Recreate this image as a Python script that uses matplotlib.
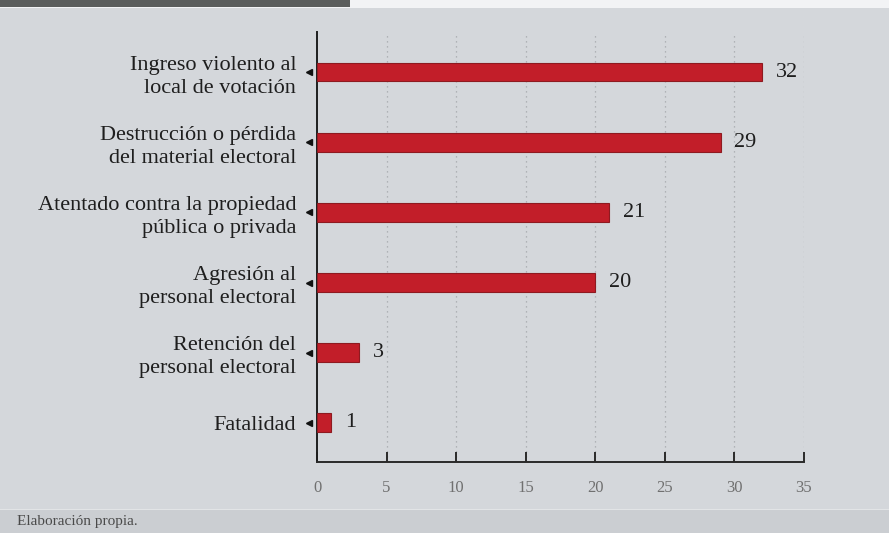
import matplotlib
matplotlib.use("Agg")
import matplotlib.pyplot as plt
from matplotlib.patches import Rectangle

# datos (de abajo hacia arriba)
categorias = ["Fatalidad",
              "Retención del\npersonal electoral",
              "Agresión al\npersonal electoral",
              "Atentado contra la propiedad\npública o privada",
              "Destrucción o pérdida\ndel material electoral",
              "Ingreso violento al\nlocal de votación"]
valores = [1, 3, 20, 21, 29, 32]
xticks = [0, 5, 10, 15, 20, 25, 30, 35]
fuente = "Elaboración propia."

bg = "#d4d7db"
rojo = "#c21e29"

plt.rcParams['font.family'] = ['Liberation Serif', 'DejaVu Serif']

fig = plt.figure(figsize=(8.89, 5.33), dpi=100)
fig.patch.set_facecolor(bg)

# franjas de la pagina escaneada
fig.patches.append(Rectangle((0, 1 - 8/533), 1, 8/533, transform=fig.transFigure,
                             facecolor="#f2f3f5", edgecolor="none"))
fig.patches.append(Rectangle((0, 1 - 7/533), 350/889, 7/533, transform=fig.transFigure,
                             facecolor="#5a5d5c", edgecolor="none"))
fig.patches.append(Rectangle((0, 0), 1, 23/533, transform=fig.transFigure,
                             facecolor="#cbced2", edgecolor="none"))
fig.patches.append(Rectangle((0, 23/533), 1, 1.5/533, transform=fig.transFigure,
                             facecolor="#e2e4e6", edgecolor="none"))
fig.text(17/889, 11/533, fuente, fontsize=11, color="#4a4a4a", va="center", ha="left")

ax = fig.add_axes([317/889, 71/533, 487/889, 430/533])
ax.set_facecolor("none")

y = list(range(len(categorias)))
ax.barh(y, valores, height=0.27, color=rojo, edgecolor="#8e1a20", linewidth=0.8, zorder=3)

for yi, v in zip(y, valores):
    ax.text(v + 1.0, yi, str(v), fontsize=16, color="#1e1e1e", va="center", ha="left")

# marcadores triangulares junto al eje
ax.plot([-0.0165] * len(y), y, linestyle="none", marker="<", markersize=5,
        color="#111111", transform=ax.get_yaxis_transform(), clip_on=False, zorder=4)

ax.set_xlim(0, 35)
ax.set_ylim(-0.556, 5.57)
ax.set_xticks(xticks)
ax.set_xticklabels([str(t) for t in xticks], fontsize=12, color="#707070")
ax.set_yticks(y)
ax.set_yticklabels(categorias, fontsize=16, color="#1e1e1e", linespacing=1.3)

ax.tick_params(axis="x", direction="in", length=7, width=1.4, color="#2a2a2a", pad=13)
ax.tick_params(axis="y", length=0, pad=15)

for t in xticks[1:]:
    ax.axvline(t, color="#a3a6aa", linestyle=(0, (1, 3)), linewidth=0.9, zorder=1)

ax.spines["top"].set_visible(False)
ax.spines["right"].set_visible(False)
ax.spines["left"].set_linewidth(1.4)
ax.spines["bottom"].set_linewidth(1.4)
ax.spines["left"].set_color("#1e1e1e")
ax.spines["bottom"].set_color("#2a2a2a")

fig.savefig("out.png", dpi=100, facecolor=fig.get_facecolor())
